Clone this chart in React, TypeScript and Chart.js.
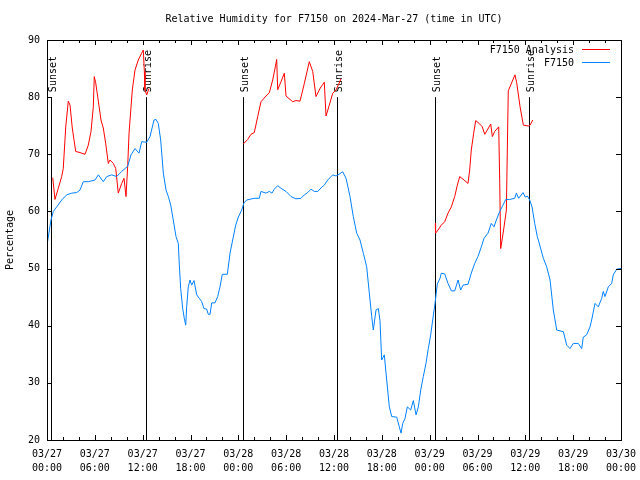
import React, { useEffect, useRef } from "react";
import { Chart, registerables } from "chart.js";

Chart.register(...registerables);

const TITLE = "Relative Humidity for F7150 on 2024-Mar-27 (time in UTC)";
const Y_LABEL = "Percentage";
const FONT = '"DejaVu Sans Mono", monospace';

const X_TICK_LABELS: string[][] = [
  ["03/27", "00:00"], ["03/27", "06:00"], ["03/27", "12:00"], ["03/27", "18:00"],
  ["03/28", "00:00"], ["03/28", "06:00"], ["03/28", "12:00"], ["03/28", "18:00"],
  ["03/29", "00:00"], ["03/29", "06:00"], ["03/29", "12:00"], ["03/29", "18:00"],
  ["03/30", "00:00"],
];
const Y_MIN = 20;
const Y_MAX = 90;

const SUN_EVENT_HOURS = [0.5, 12.45, 24.63, 36.42, 48.71, 60.52];
const SUN_EVENT_LABELS = ["Sunset", "Sunrise", "Sunset", "Sunrise", "Sunset", "Sunrise"];
const SUN_LINE_TOP = 80;

const LEGEND_LABELS = ["F7150 Analysis", "F7150"];
const ANALYSIS_COLOR = "#ff0000";
const OBS_COLOR = "#0080ff";

// F7150 observations (hours since 03/27 00:00 UTC)
const OBS_HOURS = [
  0, 0.5, 0.79, 1.22, 1.84, 2.47, 3.1, 3.73, 4.14, 4.55, 5.18, 6.02, 6.44, 7.06, 7.49, 8.12, 8.74, 9.37,
  10.12, 10.54, 11.04, 11.54, 11.88, 12.51, 12.92, 13.42, 13.67, 13.96, 14.26, 14.59, 14.93, 15.22, 15.52,
  15.84, 16.18, 16.47, 16.6, 16.77, 17.02, 17.22, 17.4, 17.52, 17.72, 17.94, 18.15, 18.44, 18.78, 19.1,
  19.41, 19.69, 20.03, 20.23, 20.45, 20.66, 21.07, 21.41, 21.7, 21.99, 22.62, 22.96, 23.29, 23.67, 24.0,
  24.42, 24.71, 25.05, 26.0, 26.63, 26.84, 27.47, 27.89, 28.22, 28.51, 28.94, 29.35, 29.98, 30.61, 31.23,
  31.86, 32.28, 32.7, 33.12, 33.53, 33.96, 34.5, 34.78, 35.21, 35.84, 36.25, 36.67, 37.09, 37.51, 38.01,
  38.42, 38.85, 39.26, 39.68, 40.1, 40.43, 40.73, 40.93, 41.27, 41.56, 41.77, 41.98, 42.31, 42.61, 42.94,
  43.24, 43.87, 44.19, 44.41, 44.62, 44.91, 45.2, 45.62, 45.95, 46.29, 46.58, 46.88, 47.2, 47.54, 47.83,
  48.13, 48.38, 48.67, 48.96, 49.3, 49.46, 49.89, 50.3, 50.72, 51.14, 51.56, 51.89, 52.18, 52.81, 53.22,
  53.65, 54.06, 54.48, 54.82, 55.32, 55.73, 56.07, 56.36, 56.79, 57.2, 57.54, 58.04, 58.67, 58.87, 59.17,
  59.71, 60.0, 60.25, 60.55, 60.84, 61.18, 61.5, 61.63, 62.26, 62.68, 63.1, 63.51, 63.94, 64.77, 65.19,
  65.6, 66.02, 66.64, 67.07, 67.27, 67.69, 68.11, 68.32, 68.74, 69.15, 69.58, 69.78, 69.99, 70.41, 70.83,
  71.03, 71.46, 71.87, 72,
];
const OBS_VALUES = [
  54.1, 58.5, 60, 60.8, 62, 62.9, 63.2, 63.3, 63.75, 65.2, 65.2, 65.5, 66.4, 65.2, 66.1, 66.4, 66.1, 67,
  67.9, 69.9, 71, 70.2, 72.2, 72.1, 73.1, 76, 76.1, 75.4, 72.5, 66.7, 63.75, 62.6, 61.1,
  58.5, 55.6, 54.4, 50.6, 46.5, 43, 41.3, 40.1, 43.3, 46.8, 48, 47.1, 47.9, 45.4, 44.8,
  44.2, 43, 42.9, 42, 42, 44, 44, 45.1, 46.8, 49, 49, 52.7, 55, 57.6, 59,
  60.25, 61.5, 62, 62.3, 62.3, 63.5, 63.2, 63.5, 63.2, 63.9, 64.5, 64.05, 63.5, 62.6, 62.2,
  62.3, 62.9, 63.3, 63.9, 63.5, 63.5, 64.3, 64.6, 65.5, 66.4, 66.2, 66.55, 66.95, 65.8, 62.6,
  59.1, 56.2, 55, 52.7, 50.3, 45.7, 41.6, 39.25, 42.75, 43, 40.9, 34, 34.9, 30.5, 25.8,
  24.1, 24, 22.3, 21.2, 22.9, 23.8, 25.8, 25.25, 26.9, 24.4, 25.8, 28.75, 31.1, 33.4, 36,
  38.4, 41, 43.9, 47.3, 48.3, 49.2, 49.05, 47.4, 46.1, 46.1, 48, 46.25, 47.1, 47.25, 49.2,
  50.9, 52.1, 53.8, 55.3, 56.2, 57.9, 57.3, 58.5, 60, 61.1, 62.1, 62.1, 62.3, 63.2, 62.3,
  63.3, 62.5, 62.7, 62, 60.8, 57.9, 55.6, 55, 51.8, 50.3, 48, 42.75, 39.25, 38.95, 36.6,
  36, 36.9, 36.9, 36, 38, 38.4, 39.8, 41, 43.9, 43.3, 44.8, 46, 45.1, 46.8, 47.4,
  48.9, 49.9, 50, 50,
];

// F7150 analysis (only overnight; null marks the gaps)
const ANALYSIS_HOURS = [
  0.72, 1.0, 1.42, 1.84, 2.04, 2.35, 2.67, 2.89, 3.17, 3.6, 4.14, 4.77, 5.18, 5.52, 5.81, 5.93, 6.11, 6.44,
  6.77, 7.06, 7.36, 7.69, 7.9, 8.32, 8.62, 8.94, 9.37, 9.66, 9.91, 10.12, 10.29, 10.7, 11.04, 11.45, 11.88,
  12.08, 12.21, 12.29, 12.51, 12.79,
  18,
  24.62, 25.18, 25.59, 26.0, 26.43, 26.84, 27.47, 27.89, 28.31, 28.64, 28.81, 28.94, 29.35, 29.77, 29.98,
  30.82, 31.23, 31.74, 32.28, 32.9, 33.33, 33.74, 34.28, 34.78, 35.0, 35.41, 35.84, 36.25, 36.88,
  42,
  48.71, 48.74, 49.05, 49.46, 49.89, 50.3, 50.72, 51.14, 51.47, 51.77, 52.31, 52.81, 53.02, 53.22, 53.52,
  53.78, 54.28, 54.6, 54.91, 55.23, 55.66, 55.86, 56.16, 56.66, 56.79, 56.91, 57.08, 57.33, 57.62, 57.74,
  57.86, 58.7, 58.92, 59.33, 59.75, 60.38, 60.59, 60.93,
];
const ANALYSIS_VALUES: (number | null)[] = [
  65.9, 62.1, 64.05, 66.1, 67.5, 74.8, 79.3, 78.6, 74.6, 70.5, 70.3, 70, 71.6, 74, 78.3, 83.6, 82.5, 79.3,
  76, 74.6, 71.9, 68.4, 69, 68.4, 67.5, 63.2, 64.9, 65.8, 62.6, 67.9, 73.7, 81.25, 84.75, 86.5, 87.7,
  88.25, 84.5, 81.25, 80.4, 81.5,
  null,
  71.8, 72.6, 73.5, 73.8, 76.6, 79.2, 80.2, 80.8, 83, 85.3, 86.6, 81.3, 82.7, 84.2, 80.2,
  79.2, 79.4, 79.3, 82.4, 86.2, 84.5, 80.1, 81.6, 82.6, 76.7, 78.6, 80.7, 81.25, 83.2,
  null,
  57.9, 56.2, 56.75, 57.6, 58.2, 59.7, 60.8, 62.6, 64.6, 66.1, 65.5, 64.9, 67.25, 70.75, 73.7,
  75.9, 75.3, 74.8, 73.5, 74.25, 75.3, 73.1, 74, 74.8, 64.9, 53.5, 55, 57.3, 60.25, 70.75,
  81.1, 83.9, 82.5, 78.4, 75.1, 74.95, 75.1, 76,
];

const overlayPlugin = {
  id: "overlay",
  beforeDatasetsDraw(chart: any) {
    const { ctx, scales } = chart;
    const x = scales.x;
    const y = scales.y;
    ctx.save();
    ctx.strokeStyle = "#000";
    ctx.fillStyle = "#000";
    ctx.lineWidth = 1;
    ctx.font = `10px ${FONT}`;
    SUN_EVENT_HOURS.forEach((h, i) => {
      const px = Math.round(x.getPixelForValue(h)) + 0.5;
      const top = y.getPixelForValue(SUN_LINE_TOP);
      const bottom = y.getPixelForValue(Y_MIN);
      ctx.beginPath();
      ctx.moveTo(px, bottom);
      ctx.lineTo(px, top);
      ctx.stroke();
      ctx.save();
      ctx.translate(px + 1.5, top - 5);
      ctx.rotate(-Math.PI / 2);
      ctx.textAlign = "left";
      ctx.textBaseline = "middle";
      ctx.fillText(SUN_EVENT_LABELS[i], 0, 0);
      ctx.restore();
    });
    ctx.restore();
  },
  afterDraw(chart: any) {
    const { ctx, chartArea, scales } = chart;
    const x = scales.x;
    const y = scales.y;
    const { left, right, top, bottom } = chartArea;
    ctx.save();
    ctx.strokeStyle = "#000";
    ctx.lineWidth = 1;
    ctx.strokeRect(Math.round(left) + 0.5, Math.round(top) + 0.5, Math.round(right - left), Math.round(bottom - top));
    ctx.beginPath();
    y.ticks.forEach((t: any) => {
      const py = Math.round(y.getPixelForValue(t.value)) + 0.5;
      ctx.moveTo(left, py);
      ctx.lineTo(left + 5, py);
      ctx.moveTo(right, py);
      ctx.lineTo(right - 5, py);
    });
    for (let h = 0; h <= 72; h += 2) {
      const len = h % 6 === 0 ? 5 : 3;
      const px = Math.round(x.getPixelForValue(h)) + 0.5;
      ctx.moveTo(px, bottom);
      ctx.lineTo(px, bottom - len);
      ctx.moveTo(px, top);
      ctx.lineTo(px, top + len);
    }
    ctx.stroke();
    ctx.font = `10px ${FONT}`;
    ctx.fillStyle = "#000";
    ctx.textAlign = "right";
    ctx.textBaseline = "middle";
    const colors = [ANALYSIS_COLOR, OBS_COLOR];
    LEGEND_LABELS.forEach((label, i) => {
      const ly = top + 10 + i * 13;
      ctx.fillText(label, right - 47, ly);
      ctx.strokeStyle = colors[i];
      ctx.beginPath();
      ctx.moveTo(right - 39, Math.round(ly) - 0.5);
      ctx.lineTo(right - 11, Math.round(ly) - 0.5);
      ctx.stroke();
    });
    ctx.restore();
  },
};

export default function App() {
  const canvasRef = useRef<HTMLCanvasElement | null>(null);

  useEffect(() => {
    document.body.style.margin = "0";
    const canvas = canvasRef.current;
    if (!canvas) return;
    const obsData = OBS_HOURS.map((h, i) => ({ x: h, y: OBS_VALUES[i] }));
    const analysisData = ANALYSIS_HOURS.map((h, i) => ({ x: h, y: ANALYSIS_VALUES[i] }));
    const chart = new Chart(canvas, {
      type: "line",
      data: {
        datasets: [
          {
            label: LEGEND_LABELS[1],
            data: obsData as any,
            borderColor: OBS_COLOR,
            backgroundColor: OBS_COLOR,
            borderWidth: 1,
            pointRadius: 0,
            tension: 0,
            fill: false,
          },
          {
            label: LEGEND_LABELS[0],
            data: analysisData as any,
            borderColor: ANALYSIS_COLOR,
            backgroundColor: ANALYSIS_COLOR,
            borderWidth: 1,
            pointRadius: 0,
            tension: 0,
            fill: false,
            spanGaps: false,
          },
        ],
      },
      options: {
        responsive: false,
        animation: false,
        devicePixelRatio: 1,
        layout: { padding: { left: 0, right: 19, top: 0, bottom: 0 } },
        plugins: {
          legend: { display: false },
          tooltip: { enabled: false },
          title: {
            display: true,
            text: TITLE,
            fullSize: false,
            color: "#000",
            font: { family: FONT, size: 10, weight: "normal", lineHeight: 1.2 },
            padding: { top: 13, bottom: 15 },
          },
        },
        scales: {
          x: {
            type: "linear",
            min: 0,
            max: 72,
            grid: { display: false, drawTicks: false },
            border: { display: false },
            ticks: {
              stepSize: 6,
              autoSkip: false,
              maxRotation: 0,
              minRotation: 0,
              padding: 7,
              color: "#000",
              font: { family: FONT, size: 10, lineHeight: 1.4 },
              callback: (v: any) => X_TICK_LABELS[Math.round(Number(v) / 6)] ?? "",
            },
            afterFit: (s: any) => {
              s.height = 40;
              s.paddingLeft = 0;
              s.paddingRight = 0;
            },
          },
          y: {
            min: Y_MIN,
            max: Y_MAX,
            grid: { display: false, drawTicks: false },
            border: { display: false },
            ticks: {
              stepSize: 10,
              padding: 7,
              color: "#000",
              font: { family: FONT, size: 10 },
            },
            title: {
              display: true,
              text: Y_LABEL,
              color: "#000",
              font: { family: FONT, size: 10, lineHeight: 1.2 },
              padding: { top: 4, bottom: 0 },
            },
            afterFit: (s: any) => {
              s.width = 47;
              s.paddingTop = 0;
              s.paddingBottom = 0;
            },
          },
        },
      },
      plugins: [overlayPlugin],
    });
    return () => chart.destroy();
  }, []);

  return (
    <div style={{ position: "absolute", left: 0, top: 0, width: 640, height: 480, background: "#fff" }}>
      <canvas ref={canvasRef} width={640} height={480} style={{ display: "block", width: 640, height: 480 }} />
    </div>
  );
}
